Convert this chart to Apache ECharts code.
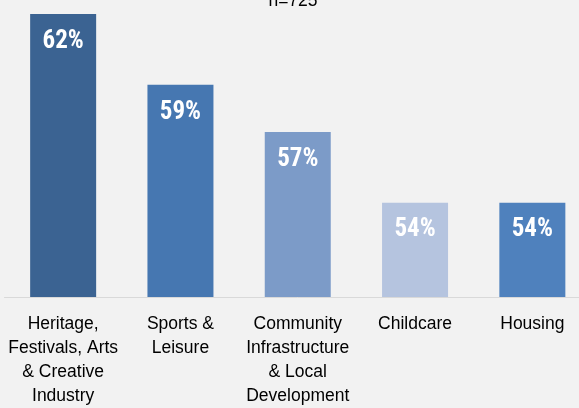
<!DOCTYPE html>
<html><head><meta charset="utf-8">
<script src="https://cdn.jsdelivr.net/npm/echarts@6/dist/echarts.min.js"></script>
<style>html,body{margin:0;padding:0;background:#f2f2f2;overflow:hidden;}#c{width:591px;height:408px;}</style>
</head><body><div id="c"></div>
<script>
const categories = ["Heritage,\nFestivals, Arts\n& Creative\nIndustry", "Sports &\nLeisure", "Community\nInfrastructure\n& Local\nDevelopment", "Childcare", "Housing"];
const values = [62, 59, 57, 54, 54];
const barColors = ["#3b6392", "#4677b1", "#7c9bc8", "#b5c4df", "#4f81bd"];
const titleText = "n=725";

const chart = echarts.init(document.getElementById('c'), null, {renderer: 'canvas'});
chart.setOption({
  backgroundColor: '#f2f2f2',
  animation: false,
  title: {
    text: titleText, left: 288, top: -13, textAlign: 'center',
    textStyle: {fontFamily: 'Liberation Sans, Arial, sans-serif', fontSize: 17.5, fontWeight: 'normal', color: '#000'}
  },
  grid: {left: 4.5, top: 14, right: 0, height: 286, containLabel: false},
  xAxis: {
    type: 'category', data: categories,
    axisLine: {lineStyle: {color: '#d9d9d9', width: 1}},
    axisTick: {show: false},
    axisLabel: {interval: 0, margin: 15, color: '#000', fontFamily: 'Liberation Sans, Arial, sans-serif', fontSize: 17.5, lineHeight: 24}
  },
  yAxis: {type: 'value', min: 50, max: 62, show: false, splitLine: {show: false}},
  series: [{
    type: 'bar', barWidth: 66,
    data: values.map((v, i) => ({value: v, itemStyle: {color: barColors[i]}})),
    label: {
      show: true, position: 'insideTop', distance: 15, formatter: '{c}%',
      color: '#fff', fontFamily: 'Roboto Condensed, sans-serif', fontWeight: 'bold', fontSize: 25
    }
  }]
});
</script></body></html>
